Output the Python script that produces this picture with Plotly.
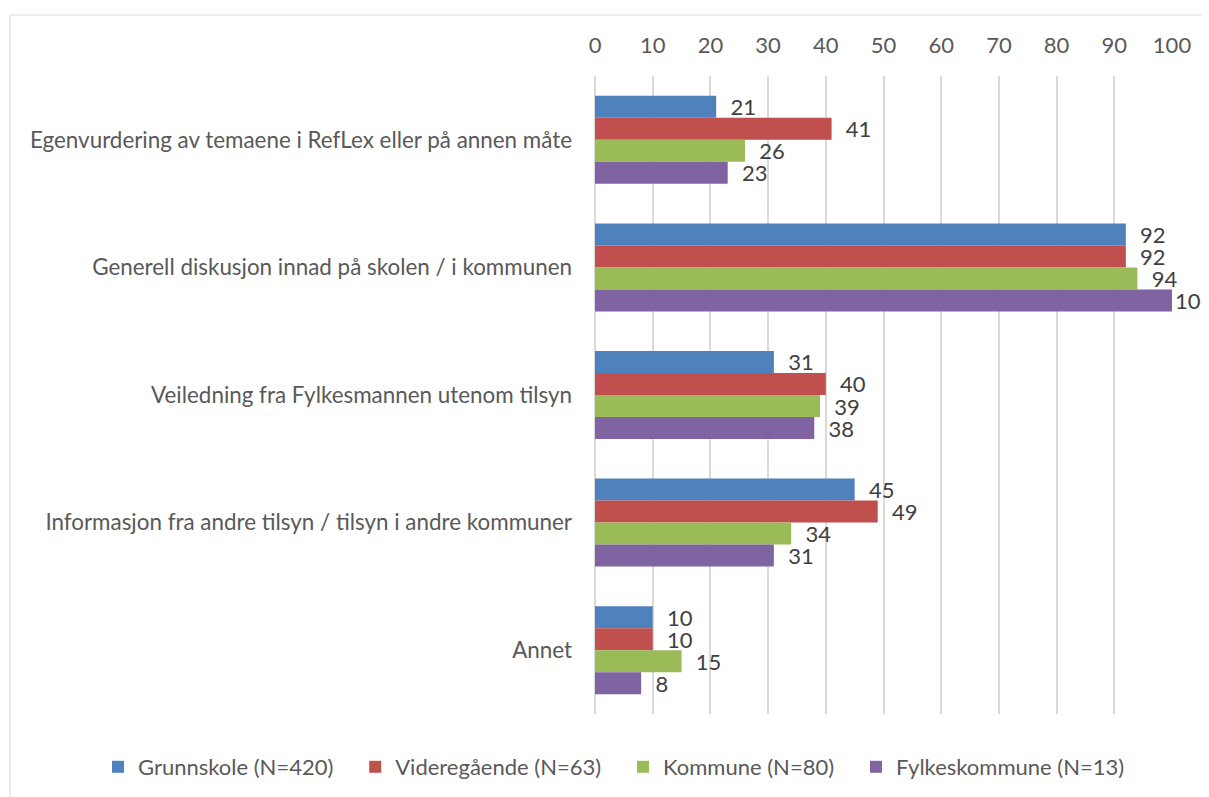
import plotly.graph_objects as go

categories = [
    "Egenvurdering av temaene i RefLex eller på annen måte",
    "Generell diskusjon innad på skolen / i kommunen",
    "Veiledning fra Fylkesmannen utenom tilsyn",
    "Informasjon fra andre tilsyn / tilsyn i andre kommuner",
    "Annet",
]
series_names = ["Grunnskole (N=420)", "Videregående (N=63)", "Kommune (N=80)", "Fylkeskommune (N=13)"]
grunnskole = [21, 92, 31, 45, 10]
videregaende = [41, 92, 40, 49, 10]
kommune = [26, 94, 39, 34, 15]
fylkeskommune = [23, 100, 38, 31, 8]
colors = ["#4F81BD", "#C0504D", "#9BBB59", "#8064A2"]
x_ticks = list(range(0, 101, 10))

FONT = "Lato"
FS = 22
OFF = 8  # page body margin offset
W, H = 1209 - OFF, 797 - OFF
# desired page-pixel positions of the plot area
PL, PR, PT, PB = 595, 1172, 76, 714
L, T = PL - OFF, PT - OFF
R = W - (PR - OFF)
B = H - (PB - OFF)
ph = H - T - B
pw = W - L - R


def px_x(px):
    return (px - OFF - L) / pw


def px_y(py):
    return (H - B - (py - OFF)) / ph


fig = go.Figure()
for name, vals, col in zip(series_names, [grunnskole, videregaende, kommune, fylkeskommune], colors):
    tmpl = ["%{x}" if v >= 100 else "\u00a0\u00a0%{x}" for v in vals]
    fig.add_trace(go.Bar(
        y=categories, x=vals, name=name + "\u00a0\u00a0\u00a0", orientation="h",
        marker=dict(color=col, line=dict(width=0)),
        texttemplate=tmpl, textposition="outside", constraintext="none",
        textfont=dict(family=FONT, size=FS, color="#404040"),
        cliponaxis=False,
    ))

fig.update_layout(
    width=W, height=H,
    margin=dict(l=L, r=R, t=T, b=B, autoexpand=False),
    paper_bgcolor="white", plot_bgcolor="white",
    barmode="group", bargap=0.31, bargroupgap=0,
    font=dict(family=FONT, color="#595959", size=FS),
    showlegend=True,
    legend=dict(orientation="h", xref="paper", x=px_x(98), xanchor="left",
                yref="paper", y=px_y(767), yanchor="middle",
                font=dict(family=FONT, size=FS, color="#595959"), traceorder="normal",
                itemwidth=30),
    xaxis=dict(side="top", range=[0, 100], tickvals=x_ticks, showgrid=True, gridcolor="#D9D9D9",
               gridwidth=1.5, zeroline=True, zerolinecolor="#D9D9D9", zerolinewidth=1.5,
               showline=False, ticks="", ticklabelstandoff=18,
               tickfont=dict(family=FONT, size=FS, color="#595959")),
    yaxis=dict(autorange="reversed", showgrid=False, showline=False, ticks="",
               ticklabelstandoff=22, tickfont=dict(family=FONT, size=22.4, color="#595959")),
    shapes=[
        dict(type="line", xref="paper", yref="paper", x0=px_x(10), x1=px_x(10), y0=px_y(15), y1=px_y(805),
             line=dict(color="#D9D9D9", width=1)),
        dict(type="line", xref="paper", yref="paper", x0=px_x(10), x1=px_x(1215), y0=px_y(15), y1=px_y(15),
             line=dict(color="#D9D9D9", width=1)),
    ],
)

fig.write_html("out.html")
